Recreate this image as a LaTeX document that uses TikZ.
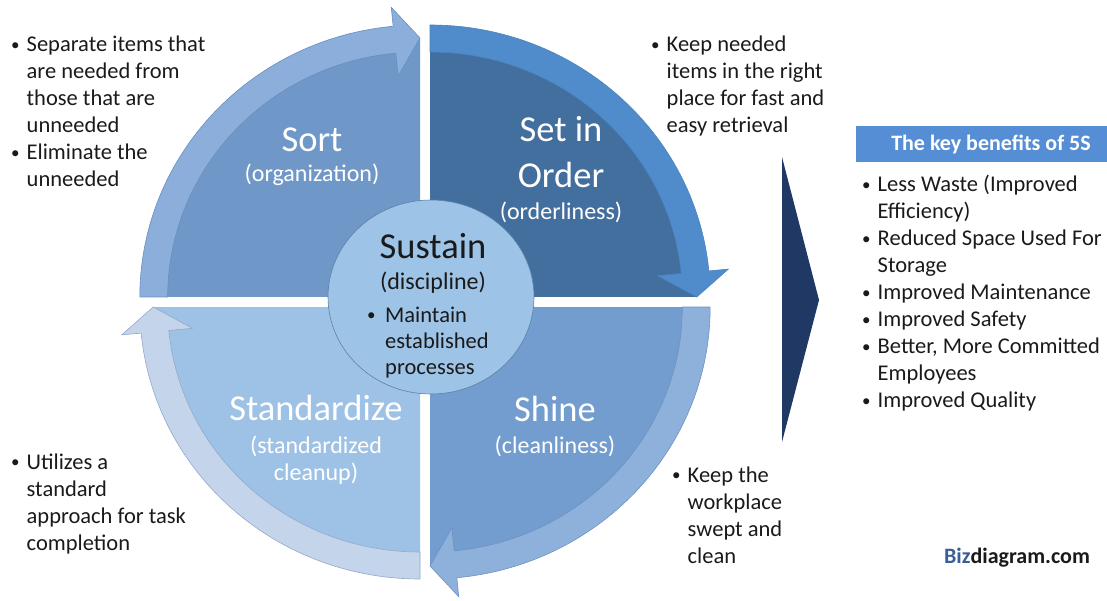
\documentclass[tikz,border=0pt]{standalone}
\usepackage{fontspec}
\setmainfont{Carlito}
\usetikzlibrary{shapes.geometric}
\definecolor{pieA}{HTML}{6F98C8}
\definecolor{bandA}{HTML}{8BAEDA}
\definecolor{lineA}{HTML}{6A8DBE}
\definecolor{pieB}{HTML}{436F9F}
\definecolor{bandB}{HTML}{508CCB}
\definecolor{lineB}{HTML}{4A82BF}
\definecolor{pieC}{HTML}{729DCE}
\definecolor{bandC}{HTML}{8EB1DC}
\definecolor{lineC}{HTML}{6E91C0}
\definecolor{pieD}{HTML}{9EC2E6}
\definecolor{bandD}{HTML}{C4D4EB}
\definecolor{lineD}{HTML}{93A9C8}
\definecolor{hubfill}{HTML}{9DC3E6}
\definecolor{hubline}{HTML}{5F80AA}
\definecolor{navy}{HTML}{1F3864}
\definecolor{hdr}{HTML}{558ED4}
\definecolor{ink}{HTML}{1A1A1A}
\definecolor{bizblue}{HTML}{3B5E98}
\newcommand\fivesq[7]{%
  \begin{scope}[shift={(#1,-#2)},xscale=1.03]
    \fill[#5] (0,0) -- (#3:258) arc[start angle=#3,end angle=#4,radius=258] -- cycle;
    \pgfmathsetmacro\hb{#4+5.5}
    \filldraw[fill=#6,draw=#7,line width=0.6pt]
      (#3:245) arc[start angle=#3,end angle=\hb,radius=245]
      -- (\hb:222) -- (#4:259) -- (\hb:291) -- (\hb:272)
      arc[start angle=\hb,end angle=#3,radius=272] -- cycle;
  \end{scope}}
\newcommand\bul{\raisebox{1.5pt}{\fontsize{17}{17}\selectfont\textbullet}}
\tikzset{
  side/.style={anchor=base west,inner sep=0pt,text=ink,font=\fontsize{22.5}{27}\selectfont},
  big/.style={anchor=base,inner sep=0pt,text=white,font=\fontsize{36.5}{40}\selectfont},
  sub/.style={anchor=base,inner sep=0pt,text=white,font=\fontsize{24}{28}\selectfont},
}
\begin{document}
\begin{tikzpicture}[x=1pt,y=1pt]
\useasboundingbox (0,0) rectangle (1107,-601);
% quadrants
\fivesq{420}{297}{180}{90}{pieA}{bandA}{lineA}
\fivesq{430}{297}{90}{0}{pieB}{bandB}{lineB}
\fivesq{430}{307}{0}{-90}{pieC}{bandC}{lineC}
\fivesq{420}{307}{270}{180}{pieD}{bandD}{lineD}
% hub
\node[ellipse,draw=hubline,fill=hubfill,line width=0.6pt,minimum width=206,minimum height=194,inner sep=0pt] (hub) at (431,-297) {};
% quadrant labels
\node[big] (sort) at (312,-152) {Sort};
\node[sub] (sortsub) at (312,-182) {(organization)};
\node[big] (setin) at (561,-142) {Set in};
\node[big] (order) at (561,-188) {Order};
\node[sub] (ordsub) at (561,-220) {(orderliness)};
\node[big] (stand) at (316,-420) {Standardize};
\node[sub] (stsub1) at (316,-453) {(standardized};
\node[sub] (stsub2) at (316,-480) {cleanup)};
\node[big] (shine) at (555,-421) {Shine};
\node[sub] (shsub) at (555,-453) {(cleanliness)};
% hub text
\node[big,text=ink] (sust) at (433,-259) {Sustain};
\node[sub,text=ink] (disc) at (433,-290) {(discipline)};
\node[anchor=base west,inner sep=0pt,text=ink,font=\fontsize{22.5}{26}\selectfont] (maint) at (367,-322)
  {\begin{tabular}[t]{@{}p{18pt}@{}l@{}}\bul & Maintain\\ & established\\ & processes\end{tabular}};
% side texts
\node[side] (tl) at (11,-52) {\begin{tabular}[t]{@{}p{15.5pt}@{}l@{}}\bul & Separate items that\\ & are needed from\\ & those that are\\ & unneeded\\ \bul & Eliminate the\\ & unneeded\end{tabular}};
\node[side] (tr) at (651,-52) {\begin{tabular}[t]{@{}p{15.5pt}@{}l@{}}\bul & Keep needed\\ & items in the right\\ & place for fast and\\ & easy retrieval\end{tabular}};
\node[side] (bl) at (11,-469) {\begin{tabular}[t]{@{}p{15.5pt}@{}l@{}}\bul & Utilizes a\\ & standard\\ & approach for task\\ & completion\end{tabular}};
\node[side] (br) at (672,-482) {\begin{tabular}[t]{@{}p{15.5pt}@{}l@{}}\bul & Keep the\\ & workplace\\ & swept and\\ & clean\end{tabular}};
% chevron
\fill[navy] (782,-157) -- (819,-300) -- (782,-442) -- cycle;
% benefits
\node[fill=hdr,minimum width=251,minimum height=36,inner sep=0pt,anchor=north west] (hdrbox) at (856,-126) {};
\node[anchor=base,inner sep=0pt,text=white,font=\fontsize{22}{27}\selectfont\bfseries] (hdrtext) at (991,-151) {The key benefits of 5S};
\node[side] (ben) at (862,-192) {\begin{tabular}[t]{@{}p{15.5pt}@{}l@{}}\bul & Less Waste (Improved\\ & Efficiency)\\ \bul & Reduced Space Used For\\ & Storage\\ \bul & Improved Maintenance\\ \bul & Improved Safety\\ \bul & Better, More Committed\\ & Employees\\ \bul & Improved Quality\end{tabular}};
\node[anchor=base,inner sep=0pt,text=ink,font=\fontsize{22}{27}\selectfont\bfseries] (biz) at (1017,-563) {{\color{bizblue}Biz}diagram.com};
\end{tikzpicture}
\end{document}
